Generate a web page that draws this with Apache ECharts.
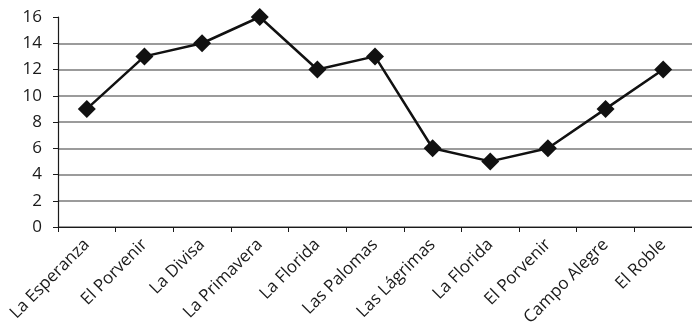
<!DOCTYPE html>
<html>
<head>
<meta charset="utf-8">
<script src="https://cdn.jsdelivr.net/npm/echarts@6/dist/echarts.min.js"></script>
<style>
  html, body { margin: 0; padding: 0; background: #fff; }
  #chart { width: 692px; height: 331px; }
</style>
</head>
<body>
<div id="chart"></div>
<script>
// Localities along the route and their counts
const categories = ['La Esperanza', 'El Porvenir', 'La Divisa', 'La Primavera', 'La Florida',
  'Las Palomas', 'Las Lágrimas', 'La Florida', 'El Porvenir', 'Campo Alegre', 'El Roble'];
const values = [9, 13, 14, 16, 12, 13, 6, 5, 6, 9, 12];
const yTicks = [0, 2, 4, 6, 8, 10, 12, 14, 16];

const fontFamily = '"Open Sans", "Noto Sans", sans-serif';
// Gridlines drawn for every tick except the top one
const gridColors = yTicks.map((v, i) => i === yTicks.length - 1 ? 'rgba(0,0,0,0)' : '#7a7a7a');

const chart = echarts.init(document.getElementById('chart'), null, { renderer: 'canvas' });
chart.setOption({
  animation: false,
  grid: { left: 58, top: 17, width: 642, height: 210, containLabel: false },
  xAxis: {
    type: 'category',
    data: categories,
    boundaryGap: true,
    axisLine: { lineStyle: { color: '#1a1a1a', width: 1.2 } },
    axisTick: { show: true, length: 5, alignWithLabel: false, lineStyle: { color: '#1a1a1a' } },
    axisLabel: {
      interval: 0,
      rotate: 45,
      margin: 15,
      color: '#1a1a1a',
      fontSize: 17,
      fontFamily: fontFamily
    },
    splitLine: { show: false }
  },
  yAxis: {
    type: 'value',
    min: yTicks[0],
    max: yTicks[yTicks.length - 1],
    interval: 2,
    axisLine: { show: true, lineStyle: { color: '#1a1a1a', width: 1.2 } },
    axisTick: { show: true, length: 5, lineStyle: { color: '#1a1a1a' } },
    axisLabel: {
      margin: 16,
      color: '#1a1a1a',
      fontSize: 17,
      fontFamily: fontFamily
    },
    splitLine: { show: true, lineStyle: { color: gridColors, width: 1.5 } }
  },
  series: [{
    type: 'line',
    data: values,
    symbol: 'diamond',
    symbolSize: 18,
    itemStyle: { color: '#111' },
    lineStyle: { color: '#111', width: 2.5 }
  }]
});
</script>
</body>
</html>
